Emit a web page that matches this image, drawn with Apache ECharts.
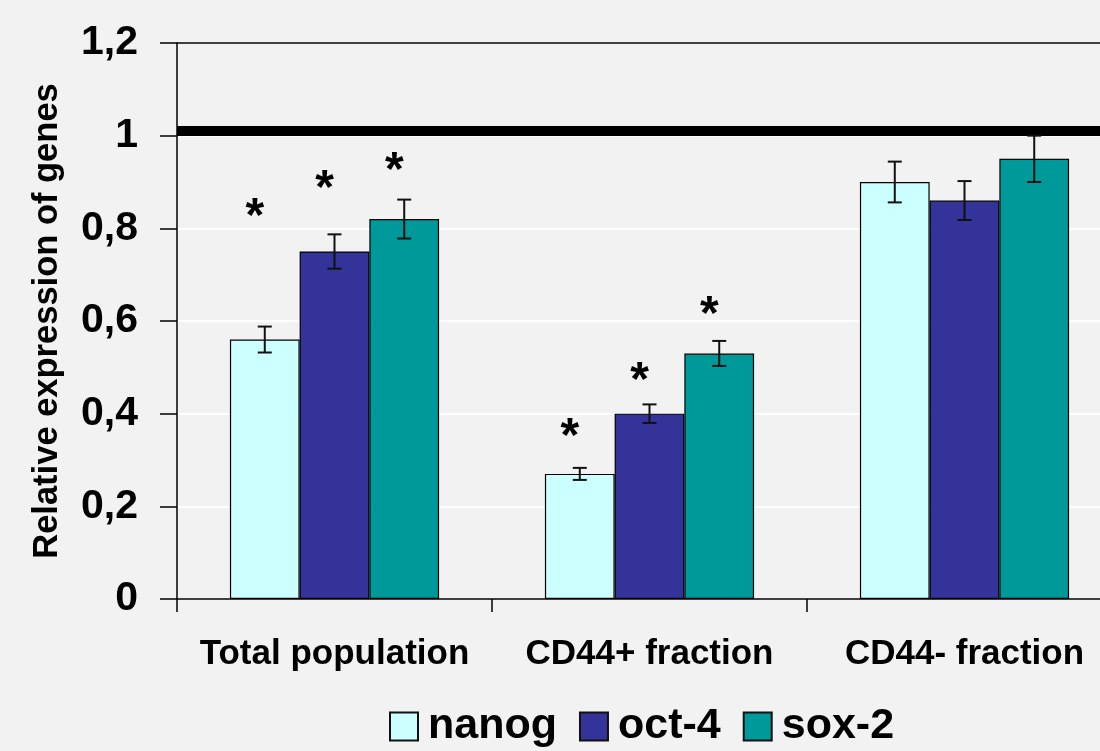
<!DOCTYPE html>
<html>
<head>
<meta charset="utf-8">
<script src="https://cdn.jsdelivr.net/npm/echarts@6/dist/echarts.min.js"></script>
<style>
    html, body { margin: 0; padding: 0; background: #f2f2f2; }
    #chart { width: 1100px; height: 751px; }
</style>
</head>
<body>
<div id="chart"></div>
<script>
// data
var categories = ['Total population', 'CD44+ fraction', 'CD44- fraction'];
var genes = ['nanog', 'oct-4', 'sox-2'];
var nanog = [0.56, 0.27, 0.90];
var oct4 = [0.75, 0.40, 0.86];
var sox2 = [0.82, 0.53, 0.95];
var nanogErr = [0.028, 0.013, 0.044];
var oct4Err = [0.037, 0.02, 0.042];
var sox2Err = [0.042, 0.027, 0.05];
// heights of the significance stars (null = no star)
var nanogStar = [0.84, 0.365, null];
var oct4Star = [0.90, 0.486, null];
var sox2Star = [0.94, 0.628, null];
var controlLevel = 1.006;
var yTicks = ['0', '0,2', '0,4', '0,6', '0,8', '1', '1,2'];

var colors = ['#ccffff', '#333399', '#009999'];
var values = [nanog, oct4, sox2];
var errs = [nanogErr, oct4Err, sox2Err];
var stars = [nanogStar, oct4Star, sox2Star];
var gapRatio = 0.336;
var font = 'Liberation Sans, Arial, sans-serif';

var myChart = echarts.init(document.getElementById('chart'));

function errorSeries(i) {
    return {
        name: genes[i] + ' err',
        type: 'custom',
        z: 10,
        data: values[i].map(function(v, k) { return [k, v - errs[i][k], v + errs[i][k]]; }),
        renderItem: function(params, api) {
            var k = api.value(0);
            var band = api.size([1, 0])[0];
            var barW = band * (1 - gapRatio) / 3;
            var x = api.coord([k, 0])[0] + (i - 1) * barW;
            var lo = api.coord([k, api.value(1)])[1];
            var hi = api.coord([k, api.value(2)])[1];
            var st = { stroke: '#111', lineWidth: 2 };
            var kids = [
                { type: 'line', shape: { x1: x, y1: lo, x2: x, y2: hi }, style: st },
                { type: 'line', shape: { x1: x - 7, y1: lo, x2: x + 7, y2: lo }, style: st },
                { type: 'line', shape: { x1: x - 7, y1: hi, x2: x + 7, y2: hi }, style: st }
            ];
            var s = stars[i][params.dataIndex];
            if (s != null) {
                var sy = api.coord([k, s])[1];
                kids.push({
                    type: 'text',
                    style: {
                        text: '*', x: x - 10, y: sy + 8,
                        align: 'center', verticalAlign: 'middle',
                        font: 'bold 48px ' + font, fill: '#000'
                    }
                });
            }
            return { type: 'group', children: kids };
        }
    };
}

var series = [];
for (var i = 0; i < 3; i++) {
    series.push({
        name: genes[i],
        type: 'bar',
        data: values[i],
        barGap: '0%',
        barCategoryGap: (gapRatio * 100) + '%',
        itemStyle: { color: colors[i], borderColor: '#000', borderWidth: 1.2 }
    });
}
for (var j = 0; j < 3; j++) series.push(errorSeries(j));
// control level line and top border
series[0].markLine = {
    silent: true,
    symbol: 'none',
    label: { show: false },
    data: [
        { yAxis: controlLevel, lineStyle: { color: '#000', width: 10, type: 'solid' } },
        { yAxis: 1.2, lineStyle: { color: '#000', width: 1.5, type: 'solid' } }
    ]
};

var option = {
    backgroundColor: '#f2f2f2',
    animation: false,
    textStyle: { fontFamily: font },
    // plot runs past the right edge of the picture
    grid: { left: 177, width: 945, top: 43, height: 556, outerBoundsMode: 'none' },
    legend: {
        data: genes,
        top: 700,
        left: 384,
        icon: 'rect',
        itemWidth: 28,
        itemHeight: 28,
        itemGap: 22,
        itemStyle: { borderColor: '#111', borderWidth: 2 },
        textStyle: { fontSize: 43, fontWeight: 'bold', color: '#000', fontFamily: font, padding: [0, 0, 0, 5] }
    },
    xAxis: {
        type: 'category',
        data: categories,
        axisLine: { lineStyle: { color: '#000', width: 1.5 } },
        axisTick: { show: true, interval: 0, length: 13, lineStyle: { color: '#000', width: 1.5 } },
        axisLabel: { interval: 0, fontSize: 35, fontWeight: 'bold', color: '#000', margin: 38, fontFamily: font }
    },
    yAxis: {
        type: 'value',
        min: 0,
        max: 1.2,
        interval: 0.2,
        name: 'Relative expression of genes',
        nameLocation: 'middle',
        nameGap: 112,
        nameRotate: 90,
        nameTextStyle: { fontSize: 34.5, fontWeight: 'bold', color: '#000', fontFamily: font },
        axisLine: { show: true, lineStyle: { color: '#000', width: 1.5 } },
        axisTick: { show: true, length: 17, lineStyle: { color: '#000', width: 1.5 } },
        splitLine: { show: true, lineStyle: { color: '#ffffff', width: 2 } },
        axisLabel: {
            fontSize: 41, fontWeight: 'bold', color: '#000', margin: 39, fontFamily: font,
            formatter: function(v) { return yTicks[Math.round(v / 0.2)]; }
        }
    },
    series: series
};
myChart.setOption(option);
</script>
</body>
</html>
